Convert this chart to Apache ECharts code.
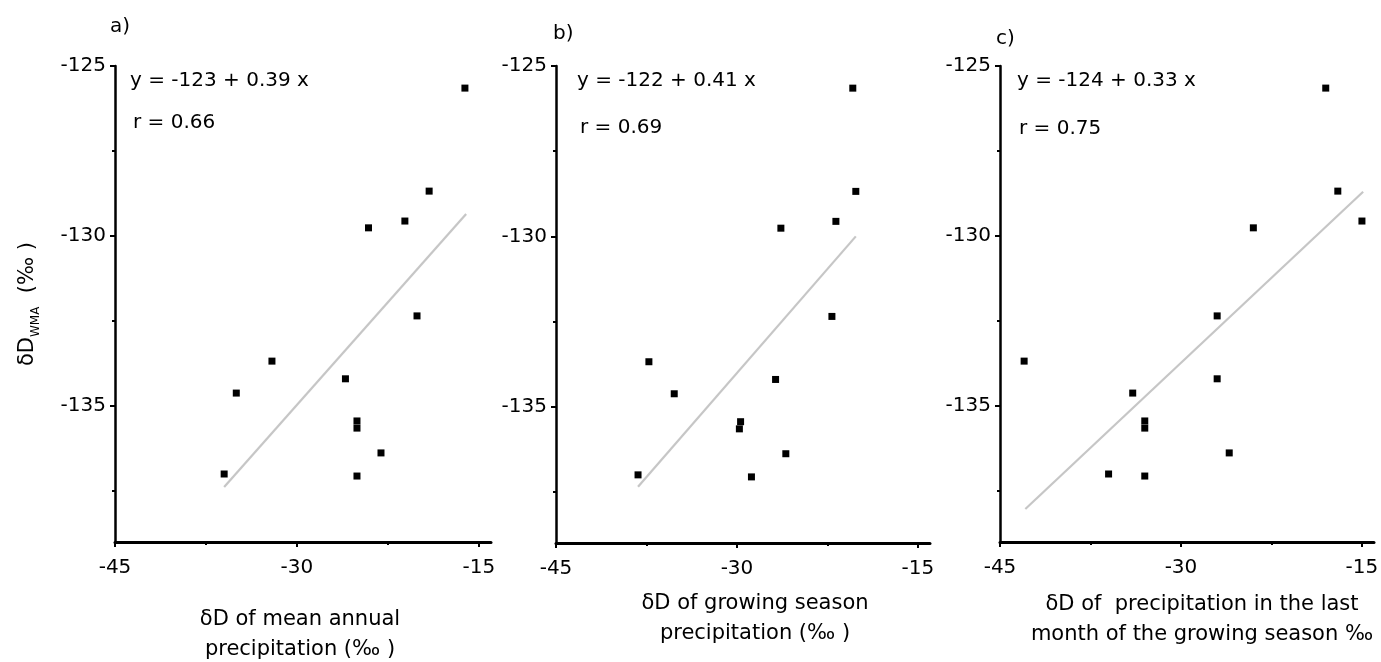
<!DOCTYPE html>
<html>
<head>
<meta charset="utf-8">
<script src="https://cdn.jsdelivr.net/npm/echarts@6/dist/echarts.min.js"></script>
<style>
html,body{margin:0;padding:0;background:#ffffff;}
#chart{width:1381px;height:662px;}
</style>
</head>
<body>
<div id="chart"></div>
<script>
// ---- data ----
const yTicks = [-135, -130, -125];
const yMinorTicks = [-137.5, -132.5, -127.5];
const xTicks = [-45, -30, -15];
const xMinorTicks = [-37.5, -22.5];

// δD of wood (WMA), shared by all panels
const yWMA = [-125.65, -128.68, -129.56, -129.76, -132.35, -133.68, -134.62, -134.2, -135.44, -135.65, -136.38, -137.0, -137.06];
// a) mean annual precipitation
const xMeanAnnual = [-16.15, -19.1, -21.1, -24.1, -20.1, -32.06, -35.0, -26.0, -25.05, -25.05, -23.07, -36.0, -25.05];
// b) growing season precipitation
const xGrowingSeason = [-20.4, -20.15, -21.8, -26.36, -22.13, -37.3, -35.2, -26.8, -29.7, -29.8, -25.95, -38.2, -28.8];
// c) last month of growing season
const xLastMonth = [-18.0, -17.0, -15.0, -24.0, -27.0, -43.0, -34.0, -27.0, -33.0, -33.0, -26.0, -36.0, -33.0];

// regression line end points (as drawn)
const fitAx = [-36.0, -16.05], fitAy = [-137.38, -129.35];
const fitBx = [-38.2, -20.15], fitBy = [-137.35, -130.0];
const fitCx = [-42.9, -14.9], fitCy = [-138.03, -128.7];

const panelLetters = ['a)', 'b)', 'c)'];
const equations = ['y = -123 + 0.39 x', 'y = -122 + 0.41 x', 'y = -124 + 0.33 x'];
const rValues = ['r = 0.66', 'r = 0.69', 'r = 0.75'];
const xNames = ['δD of mean annual\nprecipitation (‰ )', 'δD of growing season\nprecipitation (‰ )', 'δD of  precipitation in the last\nmonth of the growing season ‰'];

// ---- chart ----
const FONT = 'DejaVu Sans';
const xMin = -45, xMax = -14, yMin = -139, yMax = -125;

const grids = [
  {left: 115, top: 66, width: 376, height: 476, outerBoundsMode: 'none'},
  {left: 556, top: 66, width: 374, height: 477, outerBoundsMode: 'none'},
  {left: 1000, top: 66, width: 374, height: 476, outerBoundsMode: 'none'}
];
const namePads = [[0, 6, 0, 0], [0, 0, 0, 24], [0, 0, 0, 30]];
const nameGaps = [63, 46, 48];

const xAxes = [], yAxes = [], series = [], graphics = [];
const xs = [xMeanAnnual, xGrowingSeason, xLastMonth];
const fits = [[fitAx, fitAy], [fitBx, fitBy], [fitCx, fitCy]];

grids.forEach((g, i) => {
  // major x axis
  xAxes.push({
    type: 'value', gridIndex: i, min: xMin, max: xMax, position: 'bottom',
    splitLine: {show: false},
    axisLine: {show: true, onZero: false, lineStyle: {color: '#000', width: 3}},
    axisTick: {show: true, length: 5, customValues: xTicks, lineStyle: {color: '#000', width: 2}},
    axisLabel: {show: true, customValues: xTicks, margin: 16, color: '#000', fontSize: 20, fontFamily: FONT},
    name: xNames[i], nameLocation: 'middle', nameGap: nameGaps[i],
    nameTextStyle: {color: '#000', fontSize: 21, fontFamily: FONT, lineHeight: 30, padding: namePads[i]}
  });
  // minor x ticks
  xAxes.push({
    type: 'value', gridIndex: i, min: xMin, max: xMax, position: 'bottom',
    splitLine: {show: false},
    axisLine: {show: false, onZero: false},
    axisTick: {show: true, length: 3, customValues: xMinorTicks, lineStyle: {color: '#000', width: 2}},
    axisLabel: {show: false}
  });
  // major y axis
  const yA = {
    type: 'value', gridIndex: i, min: yMin, max: yMax, position: 'left',
    splitLine: {show: false},
    axisLine: {show: true, onZero: false, lineStyle: {color: '#000', width: 2.5}},
    axisTick: {show: true, length: 5, customValues: yTicks, lineStyle: {color: '#000', width: 2}},
    axisLabel: {show: true, customValues: yTicks, margin: 9, color: '#000', fontSize: 20, fontFamily: FONT}
  };
  if (i === 0) {
    yA.name = '{a|δD}{b|WMA}{a|  (‰ )}';
    yA.nameLocation = 'middle';
    yA.nameRotate = 90;
    yA.nameGap = 73;
    yA.nameTextStyle = {
      rich: {
        a: {fontSize: 21, fontFamily: FONT, color: '#000', lineHeight: 28},
        b: {fontSize: 12, fontFamily: FONT, color: '#000', lineHeight: 14, verticalAlign: 'bottom'}
      }
    };
  }
  yAxes.push(yA);
  // minor y ticks
  yAxes.push({
    type: 'value', gridIndex: i, min: yMin, max: yMax, position: 'left',
    splitLine: {show: false},
    axisLine: {show: false, onZero: false},
    axisTick: {show: true, length: 3, customValues: yMinorTicks, lineStyle: {color: '#000', width: 2}},
    axisLabel: {show: false}
  });

  // fit line
  series.push({
    type: 'line', xAxisIndex: 2 * i, yAxisIndex: 2 * i,
    data: fits[i][0].map((x, k) => [x, fits[i][1][k]]),
    symbol: 'none', silent: true, z: 1,
    lineStyle: {color: '#c6c6c6', width: 2.2}
  });
  // points
  series.push({
    type: 'scatter', xAxisIndex: 2 * i, yAxisIndex: 2 * i,
    data: xs[i].map((x, k) => [x, yWMA[k]]),
    symbol: 'rect', symbolSize: 7, z: 3,
    itemStyle: {color: '#000', opacity: 1}
  });
});

const letterPos = [[110, 29], [553, 36], [996, 41]];
const eqPos = [[130, 83], [577, 83], [1017, 83]];
const rPos = [[133, 125], [580, 130], [1019, 131]];
for (let i = 0; i < 3; i++) {
  graphics.push({type: 'text', left: letterPos[i][0], top: letterPos[i][1] - 12,
    style: {text: panelLetters[i], fontSize: 20, fontFamily: FONT, fill: '#000'}});
  graphics.push({type: 'text', left: eqPos[i][0], top: eqPos[i][1] - 12,
    style: {text: equations[i], fontSize: 20, fontFamily: FONT, fill: '#000'}});
  graphics.push({type: 'text', left: rPos[i][0], top: rPos[i][1] - 12,
    style: {text: rValues[i], fontSize: 20, fontFamily: FONT, fill: '#000'}});
}

const chart = echarts.init(document.getElementById('chart'), null, {renderer: 'canvas'});
chart.setOption({
  backgroundColor: '#ffffff',
  animation: false,
  grid: grids,
  xAxis: xAxes,
  yAxis: yAxes,
  series: series,
  graphic: graphics
});
</script>
</body>
</html>
